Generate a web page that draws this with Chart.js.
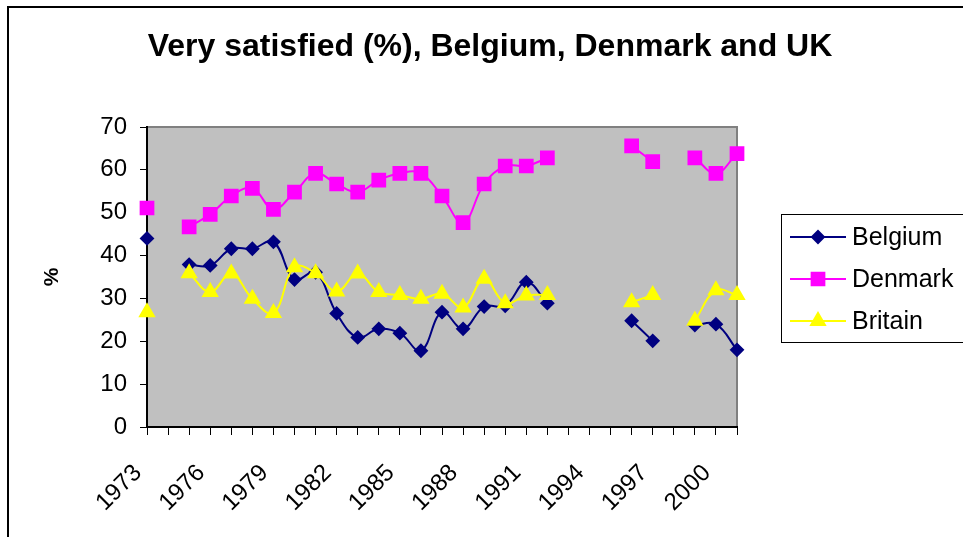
<!DOCTYPE html>
<html>
<head>
<meta charset="utf-8">
<script src="https://cdn.jsdelivr.net/npm/chart.js@4/dist/chart.umd.min.js"></script>
<style>
  html, body { margin: 0; padding: 0; background: #fff; }
  #wrap { width: 963px; height: 537px; }
</style>
</head>
<body>
<div id="wrap"><canvas id="chart" width="963" height="537"></canvas></div>
<script>
let chartTitle = "Very satisfied (%), Belgium, Denmark and UK";

let years = ["1973", "1974", "1975", "1976", "1977", "1978", "1979", "1980", "1981", "1982",
  "1983", "1984", "1985", "1986", "1987", "1988", "1989", "1990", "1991", "1992",
  "1993", "1994", "1995", "1996", "1997", "1998", "1999", "2000", "2001"];

let belgium = [44.0, null, 37.9, 37.7, 41.6, 41.6, 43.2, 34.4, 36.1, 26.5,
  20.9, 22.9, 21.9, 17.8, 26.8, 22.9, 28.1, 28.3, 33.8, 28.9,
  null, null, null, 24.8, 20.1, null, 23.8, 24.0, 18.0];

let denmark = [51.1, null, 46.7, 49.6, 53.9, 55.7, 50.8, 54.8, 59.2, 56.7,
  54.8, 57.6, 59.2, 59.2, 53.9, 47.7, 56.7, 60.9, 60.9, 62.8,
  null, null, null, 65.6, 61.9, null, 62.8, 59.2, 63.8];

let britain = [26.8, null, 35.9, 31.5, 35.8, 29.9, 26.6, 37.3, 35.9, 31.6,
  35.8, 31.5, 30.8, 29.9, 31.1, 27.9, 34.6, 28.9, 30.7, 30.8,
  null, null, null, 29.1, 30.8, null, 24.8, 31.9, 30.8];

const FONT = "'Liberation Sans', Arial, sans-serif";

// white page, outer frame, title and grey plot area
const backdrop = {
  id: 'backdrop',
  beforeDraw(chart) {
    const ctx = chart.ctx, a = chart.chartArea;
    ctx.save();
    ctx.fillStyle = '#fff';
    ctx.fillRect(0, 0, chart.width, chart.height);
    ctx.strokeStyle = '#000';
    ctx.lineWidth = 2;
    ctx.strokeRect(8, 7, 1000, 1000);
    ctx.fillStyle = '#000';
    ctx.font = 'bold 32px ' + FONT;
    ctx.textAlign = 'center';
    ctx.textBaseline = 'alphabetic';
    ctx.fillText(chartTitle, 490, 56);
    ctx.fillStyle = '#C0C0C0';
    ctx.fillRect(a.left, a.top, a.right - a.left, a.bottom - a.top);
    ctx.strokeStyle = '#808080';
    ctx.lineWidth = 2;
    ctx.beginPath();
    ctx.moveTo(a.left, a.top);
    ctx.lineTo(a.right, a.top);
    ctx.lineTo(a.right, a.bottom);
    ctx.stroke();
    ctx.restore();
  }
};

// boxed legend, line with marker like the spreadsheet one
const boxLegend = {
  id: 'boxLegend',
  afterDraw(chart) {
    const ctx = chart.ctx;
    const sets = chart.data.datasets;
    ctx.save();
    ctx.strokeStyle = '#000';
    ctx.lineWidth = 1;
    ctx.strokeRect(781.5, 214.5, 200, 128);
    ctx.font = '25px ' + FONT;
    ctx.textBaseline = 'middle';
    sets.forEach((ds, i) => {
      const y = 237 + i * 42;
      ctx.strokeStyle = ds.borderColor;
      ctx.lineWidth = 2;
      ctx.beginPath();
      ctx.moveTo(790, y);
      ctx.lineTo(846, y);
      ctx.stroke();
      Chart.helpers.drawPoint(ctx, {
        pointStyle: ds.pointStyle,
        radius: ds.pointRadius,
        rotation: 0,
        borderWidth: 1
      }, 818, y);
      ctx.fillStyle = ds.pointBackgroundColor;
      ctx.fill();
      ctx.fillStyle = '#000';
      ctx.fillText(ds.label, 852, y + 1);
    });
    ctx.restore();
  }
};

new Chart("chart", {
  type: "line",
  data: {
    labels: years,
    datasets: [{
      label: "Belgium",
      data: belgium,
      borderColor: "#000080",
      backgroundColor: "#000080",
      pointBackgroundColor: "#000080",
      pointBorderColor: "#000080",
      pointStyle: "rectRot",
      pointRadius: 6,
      borderWidth: 2,
      tension: 0.4,
      spanGaps: false,
      order: 2
    }, {
      label: "Denmark",
      data: denmark,
      borderColor: "#FF00FF",
      backgroundColor: "#FF00FF",
      pointBackgroundColor: "#FF00FF",
      pointBorderColor: "#FF00FF",
      pointStyle: "rect",
      pointRadius: 9,
      borderWidth: 2,
      tension: 0.4,
      spanGaps: false,
      order: 1
    }, {
      label: "Britain",
      data: britain,
      borderColor: "#FFFF00",
      backgroundColor: "#FFFF00",
      pointBackgroundColor: "#FFFF00",
      pointBorderColor: "#FFFF00",
      pointStyle: "triangle",
      pointRadius: 8,
      borderWidth: 2,
      tension: 0.4,
      spanGaps: false,
      order: 0
    }]
  },
  options: {
    responsive: false,
    animation: false,
    layout: { padding: { left: 10, right: 226, top: 127, bottom: 0 } },
    plugins: {
      legend: { display: false },
      tooltip: { enabled: false },
      title: { display: false }
    },
    scales: {
      x: {
        offset: false,
        afterFit: s => { s.height = 110; },
        border: { color: "#000", width: 2 },
        grid: { drawOnChartArea: false, drawTicks: true, tickLength: 8, color: "#000", lineWidth: 1 },
        ticks: {
          autoSkip: false,
          maxRotation: 45,
          minRotation: 45,
          padding: 24,
          labelOffset: -9,
          color: "#000",
          font: { family: FONT, size: 24 },
          callback: function (val, idx) {
            return idx % 3 === 0 ? this.getLabelForValue(val) : "";
          }
        }
      },
      y: {
        min: 0,
        max: 70,
        afterFit: s => { s.width = 137; },
        border: { color: "#000", width: 2 },
        grid: { drawOnChartArea: false, drawTicks: true, tickLength: 7, color: "#000", lineWidth: 1 },
        ticks: {
          stepSize: 10,
          padding: 13,
          color: "#000",
          font: { family: FONT, size: 24 }
        },
        title: {
          display: true,
          text: "%",
          color: "#000",
          font: { family: FONT, size: 21, weight: "bold" },
          padding: { top: 30, bottom: 0 }
        }
      }
    }
  },
  plugins: [backdrop, boxLegend]
});
</script>
</body>
</html>
